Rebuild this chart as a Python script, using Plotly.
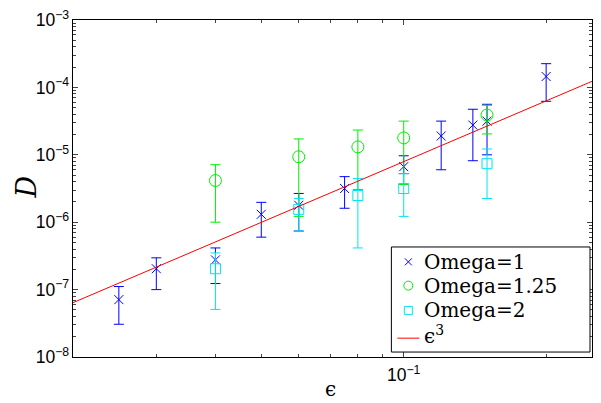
import plotly.graph_objects as go

# Omega = 1 (blue x)
eps_1 = [0.025, 0.03, 0.04, 0.05, 0.06, 0.075, 0.1, 0.12, 0.14, 0.15, 0.2]
D_1 = [7.1e-8, 2.04e-7, 2.76e-7, 1.31e-6, 1.78e-6, 3.16e-6, 6.67e-6, 1.90e-5, 2.76e-5, 3.16e-5, 1.45e-4]
D_1_hi = [1.11e-7, 2.96e-7, 4.15e-7, 1.97e-6, 2.67e-6, 4.74e-6, 9.67e-6, 3.16e-5, 4.74e-5, 5.62e-5, 2.25e-4]
D_1_lo = [3.06e-8, 1.0e-7, 1.23e-7, 6.0e-7, 7.4e-7, 1.61e-6, 5.26e-6, 6.0e-6, 8.17e-6, 1.0e-5, 6.22e-5]

# Omega = 1.25 (green circles)
eps_125 = [0.04, 0.06, 0.08, 0.1, 0.15]
D_125 = [4.15e-6, 9.35e-6, 1.31e-5, 1.78e-5, 3.88e-5]
D_125_hi = [7.13e-6, 1.72e-5, 2.33e-5, 3.16e-5, 5.43e-5]
D_125_lo = [1.0e-6, 1.22e-6, 3.06e-6, 3.62e-6, 2.04e-5]

# Omega = 2 (cyan squares)
eps_2 = [0.04, 0.06, 0.08, 0.1, 0.15]
D_2 = [2.04e-7, 1.55e-6, 2.49e-6, 3.16e-6, 7.38e-6]
D_2_hi = [3.5e-7, 2.25e-6, 4.44e-6, 5.26e-6, 1.22e-5]
D_2_lo = [5.08e-8, 7.4e-7, 4.15e-7, 1.22e-6, 2.25e-6]

# eps^3 reference line (end points)
eps_line = [0.02, 0.25]
D_line = [6.4e-8, 1.23e-4]

legend_labels = ["Omega=1", "Omega=1.25", "Omega=2", "ϵ<sup>3</sup>"]

BLUE, GREEN, CYAN, RED = "#0000ff", "#00ee00", "#00e5ee", "#ff0000"


def err(c, hi, lo):
    return [h - v for h, v in zip(hi, c)], [v - l for v, l in zip(c, lo)]


fig = go.Figure()

series = [
    (legend_labels[0], eps_1, D_1, D_1_hi, D_1_lo, BLUE, "x-thin-open", 9),
    (legend_labels[1], eps_125, D_125, D_125_hi, D_125_lo, GREEN, "circle-open", 12),
    (legend_labels[2], eps_2, D_2, D_2_hi, D_2_lo, CYAN, "square-open", 10),
]
for name, x, y, hi, lo, col, sym, sz in series:
    up, dn = err(y, hi, lo)
    fig.add_trace(go.Scatter(
        x=x, y=y, mode="markers", name=name, showlegend=False,
        marker=dict(symbol=sym, size=sz, color=col, line=dict(color=col, width=1)),
        error_y=dict(type="data", symmetric=False, array=up, arrayminus=dn,
                     color=col, thickness=1, width=5),
    ))

fig.add_trace(go.Scatter(x=eps_line, y=D_line, mode="lines", name=legend_labels[3],
                         showlegend=False, line=dict(color=RED, width=1)))

# ---- hand-drawn legend box (layout only) ----
W, H = 601, 403
ML, MR, MT, MB = 73, 8, 17, 46
PW, PH = W - ML - MR, H - MT - MB


def px(xp):
    return (xp - ML) / PW


def py(yp):
    return (H - MB - yp) / PH


shapes = [dict(type="rect", xref="paper", yref="paper", x0=px(392), x1=px(591),
               y0=py(352), y1=py(246), fillcolor="white",
               line=dict(color="black", width=1), layer="above")]
row_y = [261, 285, 310, 338]
sym_x = 409
for sgn in (1, -1):
    shapes.append(dict(type="line", xref="paper", yref="paper",
                       xsizemode="pixel", ysizemode="pixel",
                       xanchor=px(sym_x), yanchor=py(row_y[0]),
                       x0=-3.5, x1=3.5, y0=-3.5 * sgn, y1=3.5 * sgn,
                       line=dict(color=BLUE, width=1), layer="above"))
shapes.append(dict(type="circle", xref="paper", yref="paper",
                   xsizemode="pixel", ysizemode="pixel",
                   xanchor=px(sym_x), yanchor=py(row_y[1]),
                   x0=-4.5, x1=4.5, y0=-4.5, y1=4.5,
                   line=dict(color=GREEN, width=1), layer="above"))
shapes.append(dict(type="rect", xref="paper", yref="paper",
                   xsizemode="pixel", ysizemode="pixel",
                   xanchor=px(sym_x), yanchor=py(row_y[2]),
                   x0=-4, x1=4, y0=-4, y1=4,
                   line=dict(color=CYAN, width=1), layer="above"))
shapes.append(dict(type="line", xref="paper", yref="paper",
                   x0=px(398), x1=px(420), y0=py(338), y1=py(338),
                   line=dict(color=RED, width=1), layer="above"))

serif = "DejaVu Serif, Liberation Serif, serif"
annotations = []
for lab, yy in zip(legend_labels, [261, 285, 310, 335]):
    annotations.append(dict(text=lab, xref="paper", yref="paper", x=px(423), y=py(yy),
                            xanchor="left", yanchor="middle", showarrow=False,
                            font=dict(family=serif, size=20, color="black")))
# axis titles
annotations.append(dict(text="<i>D</i>", xref="paper", yref="paper", x=px(26), y=py(186),
                        xanchor="center", yanchor="middle", textangle=-90, showarrow=False,
                        font=dict(family=serif, size=27, color="black")))
annotations.append(dict(text="ϵ", xref="paper", yref="paper", x=px(331), y=py(389),
                        xanchor="center", yanchor="middle", showarrow=False,
                        font=dict(family=serif, size=20, color="black")))

tickfont = dict(family="Liberation Sans, Arial", size=14, color="black")
fig.update_xaxes(type="log", range=[-1.69897, -0.60206], dtick=1, exponentformat="power",
                 ticks="inside", ticklen=5, showline=True, linecolor="black", linewidth=1,
                 mirror="allticks", showgrid=False, zeroline=False, tickfont=tickfont,
                 ticklabelstandoff=3,
                 minor=dict(ticks="inside", ticklen=3, dtick="D1", showgrid=False))
fig.update_yaxes(type="log", range=[-8, -3], dtick=1, exponentformat="power",
                 ticks="inside", ticklen=5, showline=True, linecolor="black", linewidth=1,
                 mirror="allticks", showgrid=False, zeroline=False, tickfont=tickfont,
                 minor=dict(ticks="inside", ticklen=3, dtick="D1", showgrid=False))

fig.update_layout(
    width=W, height=H,
    margin=dict(l=ML, r=MR, t=MT, b=MB),
    paper_bgcolor="white", plot_bgcolor="white",
    showlegend=False,
    shapes=shapes, annotations=annotations,
)

fig.write_html("out.html")
